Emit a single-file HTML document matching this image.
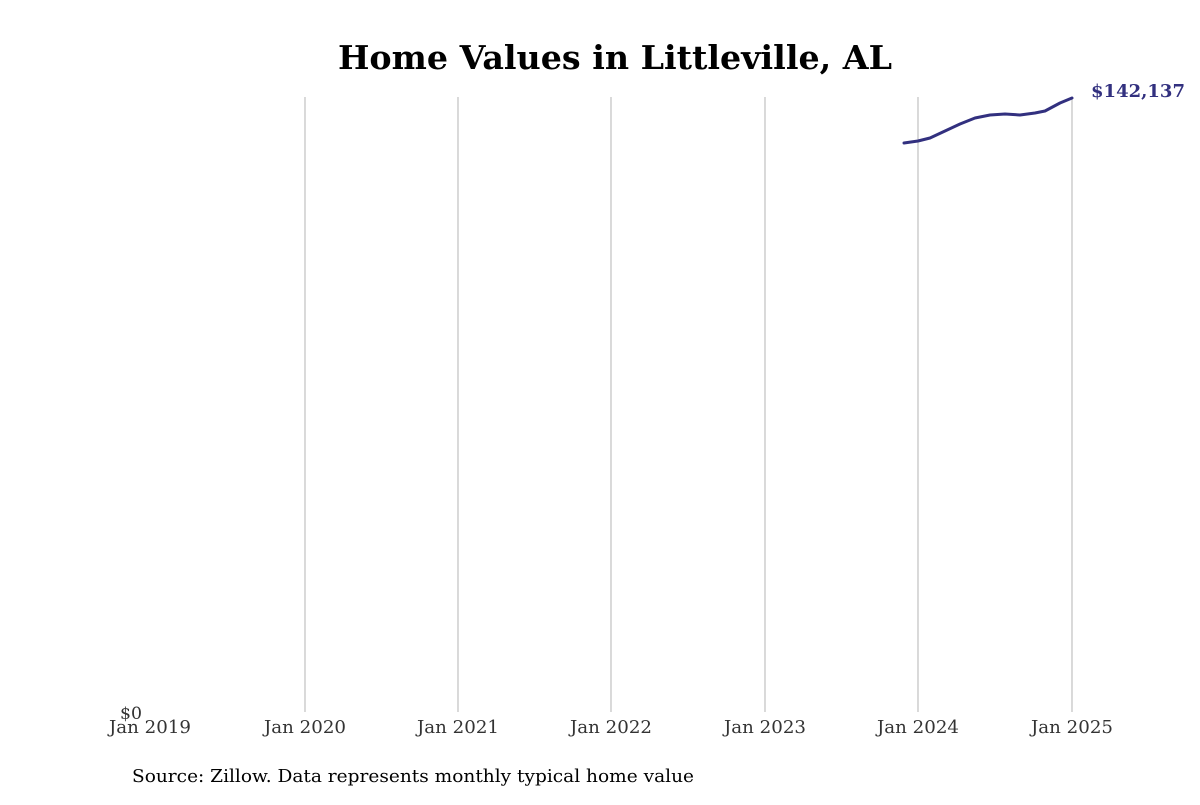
<!DOCTYPE html>
<html><head><meta charset="utf-8"><style>
body{margin:0;background:#fff;}
svg text{font-family:"DejaVu Serif","Liberation Serif",serif;}
</style></head><body>
<svg width="1200" height="800" xmlns="http://www.w3.org/2000/svg">
<rect width="1200" height="800" fill="#fff"/>
<text x="338" y="69" font-size="33" font-weight="bold" fill="#000" textLength="554" lengthAdjust="spacingAndGlyphs">Home Values in Littleville, AL</text>
<g stroke="#c0c0c0" stroke-width="1.2">
<line x1="305" y1="97" x2="305" y2="712"/>
<line x1="458" y1="97" x2="458" y2="712"/>
<line x1="611" y1="97" x2="611" y2="712"/>
<line x1="765" y1="97" x2="765" y2="712"/>
<line x1="918" y1="97" x2="918" y2="712"/>
<line x1="1072" y1="97" x2="1072" y2="712"/>
</g>
<path d="M904,143 L918,141 L930,138 L945,131 L960,124 L975,118 L990,115 L1005,114 L1020,115 L1035,113 L1045,111 L1060,103 L1072,98" fill="none" stroke="#32307f" stroke-width="3" stroke-linejoin="round" stroke-linecap="round"/>
<text x="1091" y="97" font-size="18" font-weight="bold" fill="#32307f" textLength="94" lengthAdjust="spacingAndGlyphs">$142,137</text>
<text x="120" y="719" font-size="17" fill="#333" textLength="22" lengthAdjust="spacingAndGlyphs">$0</text>
<g font-size="18" fill="#333" text-anchor="middle">
<text x="150" y="733" textLength="82" lengthAdjust="spacingAndGlyphs">Jan 2019</text>
<text x="305" y="733" textLength="82" lengthAdjust="spacingAndGlyphs">Jan 2020</text>
<text x="458" y="733" textLength="82" lengthAdjust="spacingAndGlyphs">Jan 2021</text>
<text x="611" y="733" textLength="82" lengthAdjust="spacingAndGlyphs">Jan 2022</text>
<text x="765" y="733" textLength="82" lengthAdjust="spacingAndGlyphs">Jan 2023</text>
<text x="918" y="733" textLength="82" lengthAdjust="spacingAndGlyphs">Jan 2024</text>
<text x="1072" y="733" textLength="82" lengthAdjust="spacingAndGlyphs">Jan 2025</text>
</g>
<text x="132" y="782" font-size="18" fill="#000" textLength="562" lengthAdjust="spacingAndGlyphs">Source: Zillow. Data represents monthly typical home value</text>
</svg>
</body></html>
